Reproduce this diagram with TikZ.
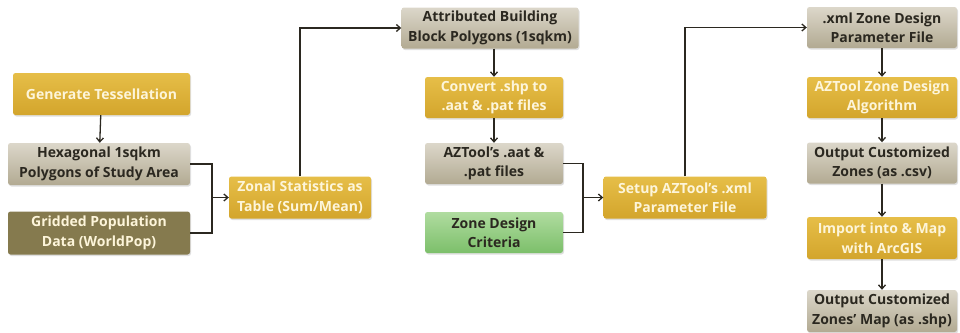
\documentclass[tikz,border=0pt]{standalone}
\usepackage{fontspec}
\setsansfont{Open Sans}
\RequirePackage{xcolor}
\tikzset{every picture/.style={/utils/exec={\sffamily\bfseries}}}
\usetikzlibrary{calc}
\usetikzlibrary{positioning}
\usetikzlibrary{arrows.meta,shadows}

\definecolor{goldtop}{HTML}{E6BE48}
\definecolor{goldbot}{HTML}{D3A52C}
\definecolor{sandtop}{HTML}{DCD7CA}
\definecolor{sandbot}{HTML}{B2AA92}
\definecolor{olive}{HTML}{857A4E}
\definecolor{leaftop}{HTML}{B0DCA0}
\definecolor{leafbot}{HTML}{7CBF6A}
\definecolor{ink}{HTML}{2B2820}
\definecolor{cream}{HTML}{FDF5DA}

\tikzset{
  box/.style={rounded corners=2.5pt, align=center, inner sep=1pt,
    font=\fontsize{14}{19.5}\selectfont,
    drop shadow={opacity=0.25, shadow xshift=1pt, shadow yshift=-1.5pt}},
  process/.style={box, top color=goldtop, bottom color=goldbot, text=cream},
  data/.style={box, top color=sandtop, bottom color=sandbot, text=ink},
  source/.style={box, fill=olive, text=cream},
  criteria/.style={box, top color=leaftop, bottom color=leafbot, text=ink},
  link/.style={draw=ink, line width=1.3pt, -{Straight Barb[length=4pt,width=7pt]}},
  wire/.style={draw=ink, line width=1.3pt}
}

\begin{document}
\begin{tikzpicture}[x=1pt,y=-1pt]
  \useasboundingbox (0,0) rectangle (960,332);

  % first column
  \node [process, minimum width=177pt, minimum height=42pt] at (101.5,94) (tess) {Generate Tessellation};
  \node [data, minimum width=182pt, minimum height=42pt] at (99,164) (hexa) {Hexagonal 1sqkm\\Polygons of Study Area};
  \node [source, minimum width=182pt, minimum height=43pt] at (99,233) (grid) {Gridded Population\\Data (WorldPop)};
  \node [process, minimum width=142pt, minimum height=42pt] at (300,197.5) (zonal) {Zonal Statistics as\\Table (Sum/Mean)};

  % second column
  \node [data, minimum width=177pt, minimum height=41pt] at (490,28) (block) {Attributed Building\\Block Polygons (1sqkm)};
  \node [process, minimum width=138pt, minimum height=41pt] at (494,97.5) (conv) {Convert .shp to\\.aat \& .pat files};
  \node [data, minimum width=138pt, minimum height=41pt] at (494,163.5) (aatfiles) {AZTool's .aat \&\\.pat files};
  \node [criteria, minimum width=138pt, minimum height=41pt] at (494,232.5) (crit) {Zone Design\\Criteria};
  \node [process, minimum width=163pt, minimum height=42pt] at (685,197.5) (setup) {Setup AZTool's .xml\\Parameter File};

  % third column
  \node [data, minimum width=150pt, minimum height=41pt] at (882,27.5) (xml) {.xml Zone Design\\Parameter File};
  \node [process, minimum width=150pt, minimum height=41pt] at (882,97.5) (algo) {AZTool Zone Design\\Algorithm};
  \node [data, minimum width=150pt, minimum height=41pt] at (882,163) (csv) {Output Customized\\Zones (as .csv)};
  \node [process, minimum width=150pt, minimum height=42pt] at (882,238) (arcgis) {Import into \& Map\\with ArcGIS};
  \node [data, minimum width=150pt, minimum height=42pt] at (882,311) (shp) {Output Customized\\Zones' Map (as .shp)};

  \coordinate (join1) at (212,197.5);
  \coordinate (join2) at (583,197.5);

  \draw [link] (tess) -- (hexa);
  \draw [wire] (hexa.east) -| (join1) |- (grid.east);
  \draw [link] (join1) -- (zonal.west);
  \draw [link] (zonal.north) |- (block.west);

  \draw [link] (block.south -| conv.north) -- (conv.north);
  \draw [link] (conv) -- (aatfiles);
  \draw [wire] (aatfiles.east) -| (join2) |- (crit.east);
  \draw [link] (join2) -- (setup.west);
  \draw [link] (setup.north) |- (xml.west);

  \foreach \a/\b in {xml/algo, algo/csv, csv/arcgis, arcgis/shp} {
    \draw [link] (\a) -- (\b);
  }
\end{tikzpicture}
\end{document}
